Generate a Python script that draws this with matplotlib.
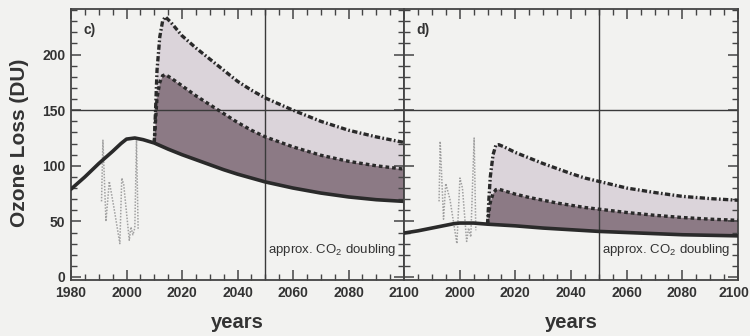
import matplotlib
matplotlib.use("Agg")
import matplotlib.pyplot as plt
from matplotlib.ticker import MultipleLocator
from matplotlib.transforms import ScaledTranslation

plt.rcParams['font.family'] = ['Liberation Sans', 'DejaVu Sans']
plt.rcParams['mathtext.fontset'] = 'custom'
plt.rcParams['mathtext.rm'] = 'Liberation Sans'

# ---- panel c) ----
base_years_c = [1980, 1985, 1990, 1995, 1998, 2000, 2003, 2006, 2010, 2015, 2020, 2025,
                2030, 2035, 2040, 2045, 2050, 2060, 2070, 2080, 2090, 2100]
base_c = [79, 90, 102, 113, 120, 124, 125, 123.5, 120.5, 115, 110, 105.5,
          101, 96.5, 92.5, 89, 85.5, 80, 75.5, 72, 69.5, 68]

proj_years = [2010, 2010.5, 2011, 2012, 2013, 2014, 2016, 2020, 2025, 2030, 2035,
              2040, 2045, 2050, 2060, 2070, 2080, 2090, 2100]
mid_c = [120.5, 142, 161, 175, 181, 182, 179, 172, 163, 155, 147,
         139, 132, 126, 117, 109.5, 104, 100, 97]
high_c = [120.5, 152, 186, 216, 230, 234, 229, 217, 206, 196, 186,
          176, 168, 161, 150, 140, 132, 126, 121]

obs_years_c = [1991.0, 1991.5, 1992.6, 1993.8, 1995.5, 1997.6, 1998.3, 1999.0,
               2001.0, 2001.6, 2002.3, 2003.0, 2003.6, 2004.2]
obs_c = [68, 123, 50, 86, 62, 30, 89, 83, 33, 45, 38, 44, 123, 42]

# ---- panel d) ----
base_years_d = [1980, 1985, 1990, 1995, 1998, 2000, 2005, 2010, 2020, 2030,
                2040, 2050, 2060, 2070, 2080, 2090, 2100]
base_d = [39.5, 41.5, 44, 46.5, 48, 48.5, 48.5, 47.5, 46, 44,
          42.5, 41, 40, 39, 38, 37.5, 37]
mid_d = [47.5, 58, 67, 75, 78.5, 79, 77.5, 74.5, 71.5, 69, 66.5,
         64.5, 62.5, 61, 58, 55.5, 53.5, 52, 51]
high_d = [47.5, 70, 90, 110, 118.5, 119, 117, 112, 107, 102, 97.5,
          93, 89, 86, 80, 76, 72.5, 70.5, 69]

obs_years_d = [1992.6, 1993.0, 1994.2, 1995.0, 1996.5, 1999.0, 2000.1, 2001.0,
               2002.5, 2003.2, 2004.0, 2005.2, 2005.8]
obs_d = [68, 122, 52, 84, 70, 30, 89, 80, 32, 44, 36, 125, 42]

year_ticks = [1980, 2000, 2020, 2040, 2060, 2080, 2100]
panel_labels = ['c)', 'd)']
co2_year = 2050
ref_level = 150

bg = '#f2f2f0'
dark_fill = '#8c7a85'
light_fill = '#dbd4da'
ink = '#2a2a2a'


def draw_panel(ax, by, base, mid, high, oy, obs, label):
    # projection bands start where the baseline is at the first projection year
    tail_y = [y for y in by if y >= proj_years[0]]
    tail_v = [v for y, v in zip(by, base) if y >= proj_years[0]]
    ax.fill(proj_years + tail_y[::-1], mid + tail_v[::-1], color=dark_fill, lw=0, zorder=1)
    ax.fill(proj_years + proj_years[::-1], high + mid[::-1], color=light_fill, lw=0, zorder=1)

    ax.axhline(ref_level, color='#3a3a3a', lw=1.0, zorder=2)
    ax.axvline(co2_year, color='#3a3a3a', lw=1.0, zorder=2)

    ax.plot(oy, obs, color='#a0a0a0', lw=1.1, ls=(0, (1, 1)), zorder=3)
    ax.plot(proj_years, high, color=ink, lw=2.4, ls=(0, (1.6, 0.7, 0.5, 0.7)), zorder=4)
    ax.plot(proj_years, mid, color=ink, lw=2.4, ls=(0, (1.1, 0.9)), zorder=4)
    ax.plot(by, base, color=ink, lw=2.6, solid_capstyle='round', zorder=5)

    ax.set_xlim(1980, 2100)
    ax.set_ylim(-2.7, 241)
    ax.set_facecolor(bg)
    ax.xaxis.set_minor_locator(MultipleLocator(5))
    ax.yaxis.set_major_locator(MultipleLocator(50))
    ax.yaxis.set_minor_locator(MultipleLocator(10))
    ax.tick_params(which='both', direction='in', top=True, right=True,
                   color='#444444', labelcolor='#333333', labelsize=10)
    ax.tick_params(which='major', length=7, width=1.1, pad=4)
    ax.tick_params(which='minor', length=4, width=1.0)
    for sp in ax.spines.values():
        sp.set_color('#444444')
        sp.set_linewidth(1.3)

    ax.text(0.038, 0.95, label, transform=ax.transAxes, ha='left', va='top',
            fontsize=10, fontweight='bold', color='#333333')
    ax.text(2051, 21.5, r'approx. CO$_\mathrm{2}$ doubling', ha='left', va='baseline',
            fontsize=9.5, color='#333333', zorder=6)


fig = plt.figure(figsize=(7.5, 3.36), dpi=100, facecolor=bg)
ax1 = fig.add_axes([71 / 750, 1 - 280 / 336, 333 / 750, 271 / 336])
ax2 = fig.add_axes([404 / 750, 1 - 280 / 336, 334 / 750, 271 / 336])

draw_panel(ax1, base_years_c, base_c, mid_c, high_c, obs_years_c, obs_c, panel_labels[0])
draw_panel(ax2, base_years_d, base_d, mid_d, high_d, obs_years_d, obs_d, panel_labels[1])

ax1.set_xticks(year_ticks, [str(y) for y in year_ticks])
# the shared edge only carries one year label
ax2.set_xticks(year_ticks, [''] + [str(y) for y in year_ticks[1:]])
ax2.tick_params(labelleft=False)
for ax in (ax1, ax2):
    for lab in ax.get_xticklabels() + ax.get_yticklabels():
        lab.set_fontweight('bold')
last = ax2.get_xticklabels()[-1]
last.set_transform(last.get_transform() + ScaledTranslation(-3 / 72, 0, fig.dpi_scale_trans))

fig.text(20 / 750, 0.576, 'Ozone Loss (DU)', rotation=90, ha='center', va='center',
         fontsize=15, fontweight='bold', color='#333333')
for ax in (ax1, ax2):
    fig.text((ax.get_position().x0 + ax.get_position().x1) / 2, 8 / 336, 'years',
             ha='center', va='baseline', fontsize=14.5, fontweight='bold', color='#333333')

fig.savefig('out.png', dpi=100, facecolor=bg)
